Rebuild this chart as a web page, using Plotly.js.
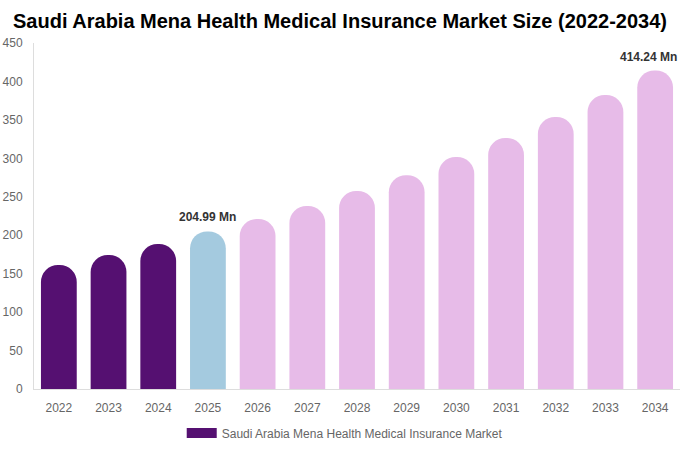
<!DOCTYPE html>
<html>
<head>
<meta charset="utf-8">
<script src="https://cdn.plot.ly/plotly-3.0.1.min.js"></script>
<style>
  html, body { margin: 0; padding: 0; background: #fff; }
  #chart { width: 680px; height: 450px; }
</style>
</head>
<body>
<div id="chart"></div>
<script>
// ── Datos ───────────────────────────────────────────────
const years  = ['2022', '2023', '2024', '2025', '2026', '2027', '2028',
                '2029', '2030', '2031', '2032', '2033', '2034'];
const values = [161.3, 174.3, 188.6, 204.99, 221.0, 238.0, 257.5,
                278.0, 301.7, 326.4, 353.7, 382.4, 414.24];
const labelYears  = ['2025', '2034'];
const labelTexts  = ['204.99 Mn', '414.24 Mn'];
const seriesName  = 'Saudi Arabia Mena Health Medical Insurance Market';

const DARK  = '#551071';
const BLUE  = '#a4cadf';
const PINK  = '#e7bbe8';

const barColors = years.map(y => {
  const n = Number(y);
  if (n < 2025) return DARK;
  if (n === 2025) return BLUE;
  return PINK;
});

const bars = {
  type: 'bar',
  x: years,
  y: values,
  width: 0.72,
  marker: { color: barColors, cornerradius: '50%' },
  showlegend: false,
  hoverinfo: 'x+y'
};

// traza ficticia solo para la leyenda (rectángulo ancho)
const legendTrace = {
  type: 'scatter',
  mode: 'lines',
  x: [null],
  y: [null],
  name: seriesName,
  line: { color: DARK, width: 11 },
  hoverinfo: 'skip'
};

// etiquetas de valor: posición por índice de categoría
const annotations = labelYears.map((yr, i) => {
  const idx = years.indexOf(yr);
  const last = idx === years.length - 1;
  return {
    x: idx,
    y: values[idx],
    xref: 'x',
    yref: 'y',
    text: '<b>' + labelTexts[i] + '</b>',
    showarrow: false,
    xanchor: 'center',
    yanchor: 'bottom',
    yshift: 5,
    xshift: last ? -7 : 0,   // que no se corte en el borde derecho
    font: { family: 'Liberation Sans, Arial, sans-serif', size: 12, color: '#333' }
  };
});

const layout = {
  width: 680,
  height: 450,
  paper_bgcolor: '#ffffff',
  plot_bgcolor:  '#ffffff',
  margin: { t: 43, b: 61, l: 34, r: 0 },
  title: {
    text: '<b>Saudi Arabia Mena Health Medical Insurance Market Size (2022-2034)</b>',
    x: 0.5,
    xanchor: 'center',
    y: 0.953,
    yanchor: 'middle',
    font: { family: 'Liberation Sans, Arial, sans-serif', size: 20, color: '#000' }
  },
  font: { family: 'Liberation Sans, Arial, sans-serif', size: 12, color: '#666' },
  xaxis: {
    type: 'category',
    showline: true,
    linecolor: '#dddddd',
    showgrid: false,
    ticks: '',
    ticklabelstandoff: 8,
    tickfont: { size: 12, color: '#666' },
    range: [-0.5, 12.5]
  },
  yaxis: {
    range: [0, 450],
    dtick: 50,
    showline: true,
    linecolor: '#dddddd',
    showgrid: false,
    zeroline: false,
    ticks: '',
    ticklabelstandoff: 8,
    tickfont: { size: 12, color: '#666' }
  },
  showlegend: true,
  legend: {
    orientation: 'h',
    x: 0.481,
    xanchor: 'center',
    y: -0.127,
    yanchor: 'middle',
    font: { size: 12, color: '#666' }
  },
  annotations: annotations,
  bargap: 0.28
};

Plotly.newPlot('chart', [bars, legendTrace], layout, { displayModeBar: false, responsive: false });
</script>
</body>
</html>
